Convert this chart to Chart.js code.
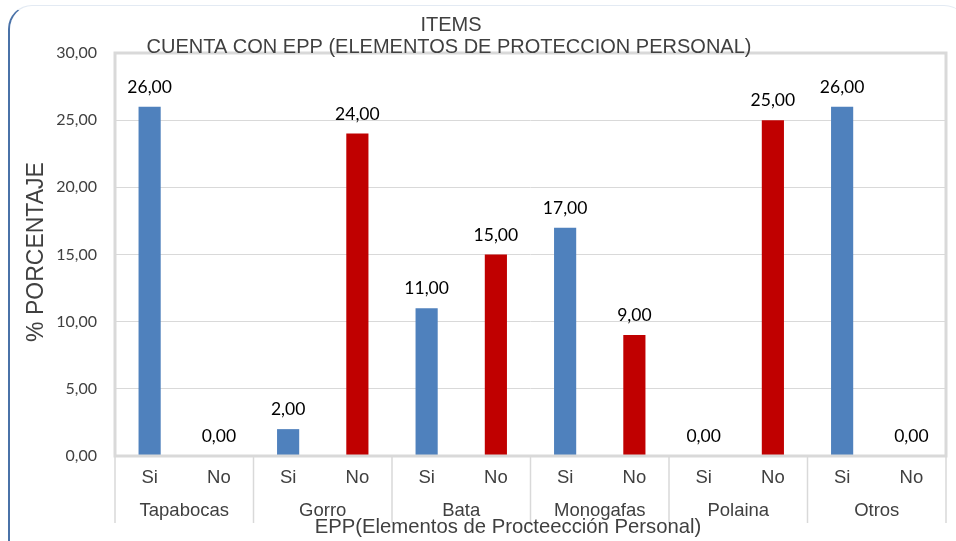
<!DOCTYPE html>
<html><head><meta charset="utf-8">
<script src="https://cdn.jsdelivr.net/npm/chart.js@4"></script>
<style>
html,body{margin:0;padding:0;background:#fff;overflow:hidden}
#wrap{position:relative;width:956px;height:541px}
#frame{position:absolute;left:8px;top:5px;width:960px;height:560px;border-radius:24px;
 border-left:2px solid #4a72a8;border-top:1px solid #e3eaf3;border-bottom:2px solid #4a72a8;box-sizing:border-box}
canvas{position:absolute;left:0;top:0}
</style></head>
<body><div id="wrap"><div id="frame"></div><canvas id="c" width="956" height="541"></canvas></div>
<script>
const groups = ["Tapabocas","Gorro","Bata","Monogafas","Polaina","Otros"];
const answers = ["Si","No"];
const categories = ["Si","No","Si","No","Si","No","Si","No","Si","No","Si","No"];
const values = [26,0,2,24,11,15,17,9,0,25,26,0];
const yTicks = [0,5,10,15,20,25,30];
const titleLines = ["ITEMS","CUENTA CON EPP (ELEMENTOS DE PROTECCION PERSONAL)"];
const xTitle = "EPP(Elementos de Procteección Personal)";
const yTitle = "% PORCENTAJE";

const SI_COLOR = "#4F81BD", NO_COLOR = "#C00000";
const fmt = v => v.toFixed(2).replace(".", ",");

const decor = {
  id: "decor",
  afterDraw(chart) {
    const ctx = chart.ctx, a = chart.chartArea, x = chart.scales.x;
    ctx.save();
    ctx.strokeStyle = "#d9d9d9"; ctx.lineWidth = 3;
    ctx.strokeRect(a.left, a.top, a.right - a.left, a.bottom - a.top);
    ctx.lineWidth = 1.5; ctx.strokeStyle = "#d9d9d9";
    const n = categories.length, step = (a.right - a.left) / n;
    for (let g = 0; g <= groups.length; g++) {
      let px;
      if (g < groups.length) px = x.getPixelForValue(g * 2) - step / 2;
      else px = x.getPixelForValue(n - 1) + step / 2;
      ctx.beginPath(); ctx.moveTo(px, a.bottom + 1); ctx.lineTo(px, 523); ctx.stroke();
    }
    ctx.fillStyle = "#404040"; ctx.font = "18.5px 'Liberation Sans', Arial"; ctx.textAlign = "center"; ctx.textBaseline = "middle";
    groups.forEach((g, i) => {
      const cx = (x.getPixelForValue(i * 2) + x.getPixelForValue(i * 2 + 1)) / 2;
      ctx.fillText(g, cx, 511);
    });
    ctx.fillStyle = "#000"; ctx.font = "17.5px Lato, 'Open Sans'"; ctx.textBaseline = "alphabetic";
    const meta = chart.getDatasetMeta(0);
    meta.data.forEach((bar, i) => {
      ctx.fillText(fmt(values[i]), bar.x, bar.y - 14);
    });
    ctx.fillStyle = "#404040"; ctx.font = "20px 'Liberation Sans', Arial"; ctx.textBaseline = "middle";
    ctx.fillText(titleLines[0], 451, 25);
    ctx.fillText(titleLines[1], 449, 47);
    ctx.font = "20.3px 'Liberation Sans', Arial";
    ctx.fillText(xTitle, 508, 527);
    ctx.translate(37, 252); ctx.rotate(-Math.PI / 2);
    ctx.font = "23px 'Liberation Sans', Arial";
    ctx.fillText(yTitle, 0, 0);
    ctx.restore();
  }
};

new Chart(document.getElementById("c"), {
  type: "bar",
  data: {
    labels: categories,
    datasets: [{
      data: values,
      backgroundColor: categories.map(c => c === answers[0] ? SI_COLOR : NO_COLOR),
      barPercentage: 0.32, categoryPercentage: 1.0, borderWidth: 0
    }]
  },
  options: {
    responsive: false, animation: false, devicePixelRatio: 1,
    layout: { padding: { left: 0, top: 53, right: 10, bottom: 0 } },
    plugins: { legend: { display: false }, tooltip: { enabled: false }, title: { display: false } },
    scales: {
      x: {
        grid: { display: false, drawTicks: false }, border: { display: false },
        ticks: { color: "#404040", font: { family: "'Liberation Sans', Arial", size: 18.5 }, padding: 11, maxRotation: 0, autoSkip: false },
        afterFit(s) { s.height = 85; }
      },
      y: {
        min: 0, max: 30,
        afterBuildTicks(s) { s.ticks = yTicks.map(v => ({ value: v })); },
        grid: { color: "#d9d9d9", lineWidth: 1, drawTicks: false }, border: { display: false },
        ticks: { color: "#404040", font: { family: "Lato, 'Open Sans'", size: 16 }, padding: 18, callback: v => fmt(v) },
        afterFit(s) { s.width = 115; }
      }
    }
  },
  plugins: [decor]
});
</script></body></html>
